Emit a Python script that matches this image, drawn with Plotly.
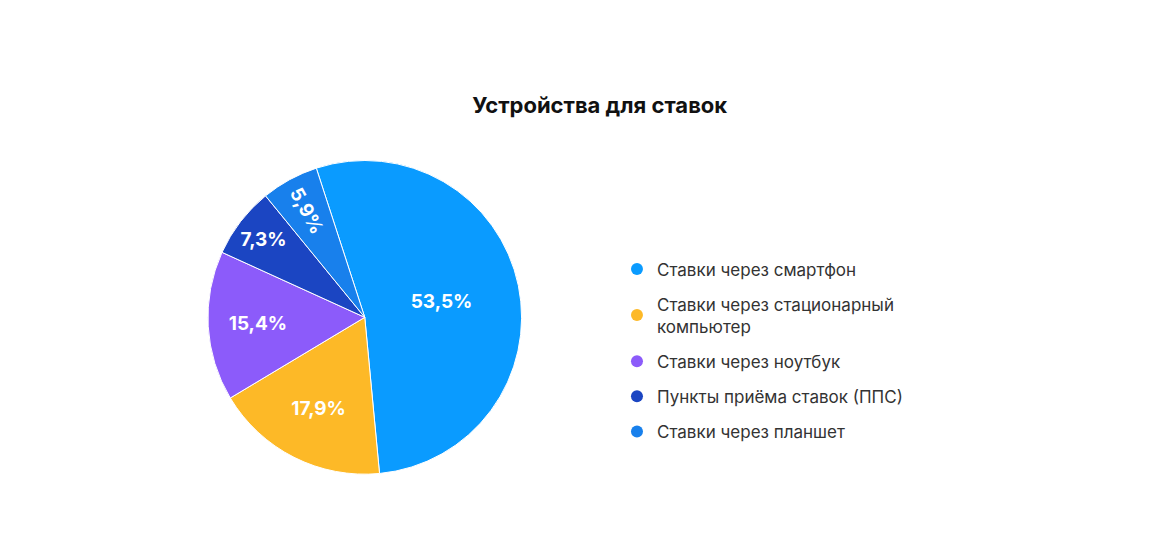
import plotly.graph_objects as go

labels = ["Ставки через смартфон", "Ставки через стационарный<br>компьютер",
          "Ставки через ноутбук", "Пункты приёма ставок (ППС)", "Ставки через планшет"]
values = [53.5, 17.9, 15.4, 7.3, 5.9]
text_labels = ["53,5%", "17,9%", "15,4%", "7,3%", "5,9%"]
colors = ["#0A9BFF", "#FDB927", "#8C5BFA", "#1B45C2", "#1880EC"]

fig = go.Figure()
fig.add_trace(go.Pie(
    labels=labels, values=values, text=text_labels,
    textinfo="text", texttemplate="%{text}",
    insidetextorientation="auto",
    textfont=dict(family="Inter", size=19, color="white", weight="bold"),
    marker=dict(colors=colors, line=dict(color="white", width=1)),
    sort=False, direction="clockwise", rotation=-18,
    showlegend=False, hoverinfo="label+percent",
    domain=dict(x=[0.174, 0.447], y=[0.142, 0.727]),
))

# legend with round markers
for i, (lab, c) in enumerate(zip(labels, colors)):
    fig.add_trace(go.Scatter(x=[None], y=[None], mode="markers", name=lab,
                             legendgroup=str(i),
                             marker=dict(size=22, color=c, symbol="circle")))

fig.update_layout(
    width=1149, height=547,
    paper_bgcolor="white", plot_bgcolor="white",
    margin=dict(l=0, r=0, t=0, b=0),
    title=dict(text="<b>Устройства для ставок</b>", x=0.515, xanchor="center",
               y=0.823, yanchor="middle",
               font=dict(family="Inter", size=22, color="#111111")),
    font=dict(family="Inter", color="#333333"),
    xaxis=dict(visible=False), yaxis=dict(visible=False),
    legend=dict(x=0.53, y=0.555, xanchor="left", yanchor="top",
                font=dict(size=17, color="#333333"), tracegroupgap=10,
                itemsizing="constant"),
)

fig.write_html("out.html")
